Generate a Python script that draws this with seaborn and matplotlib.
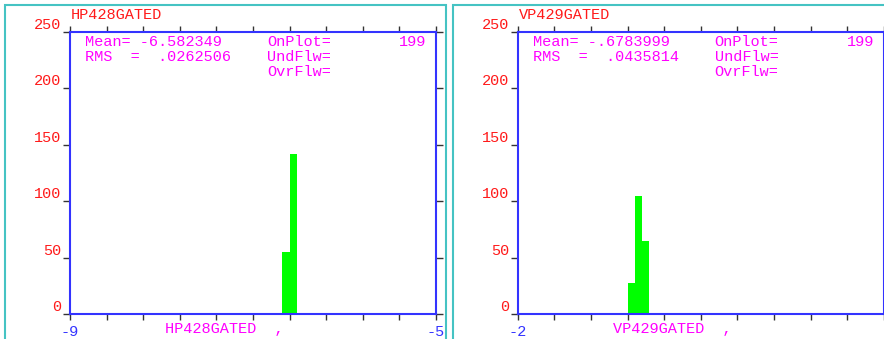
import numpy as np
import pandas as pd
import matplotlib
matplotlib.use("Agg")
import matplotlib.pyplot as plt
from matplotlib.patches import Rectangle
import seaborn as sns

# histogram contents (bin centres, counts)
hp_centres = [-6.64, -6.56]
hp_counts = [55, 142]
vp_centres = [-0.76, -0.68, -0.60]
vp_counts = [28, 105, 65]

hp_name = "HP428GATED"
vp_name = "VP429GATED"
hp_stats = ["Mean= -6.582349", "RMS  =  .0262506"]
vp_stats = ["Mean= -.6783999", "RMS  =  .0435814"]
on_plot = ["199", "199"]
y_ticks = [0, 50, 100, 150, 200, 250]
# end labels on the x axis (the right panel's upper one is off the picture)
hp_xlabels = ["-9", "-5"]
vp_xlabels = ["-2", ""]

RED = "#ff1a1a"
BLUE = "#3333ff"
MAG = "#ff00ff"
GREEN = "#00ff00"
CYAN = "#45c3c3"
TICK = "#333333"

sns.set_style("white")
plt.rcParams["font.family"] = ["Liberation Mono", "DejaVu Sans Mono"]
FS = 11

W, H = 884, 339
fig = plt.figure(figsize=(W / 100, H / 100), dpi=100)

# cyan frames around each panel
fig.patches.append(Rectangle((5 / W, -0.1), 441 / W, 1.1 - 5 / H, transform=fig.transFigure,
                             fill=False, edgecolor=CYAN, lw=1.5))
fig.patches.append(Rectangle((453 / W, -0.1), 0.6, 1.1 - 5 / H, transform=fig.transFigure,
                             fill=False, edgecolor=CYAN, lw=1.5))


def panel(left_px, centres, counts, lo, hi, name, stats, onplot, end_labels):
    ax = fig.add_axes([left_px / W, 24.7 / H, 366 / W, 282.5 / H])
    df = pd.DataFrame({"x": centres, "n": counts})
    edges = list(np.linspace(lo, hi, 51))
    sns.histplot(data=df, x="x", weights="n", bins=edges, ax=ax, color=GREEN,
                 alpha=1, linewidth=0)
    ax.set_xlim(lo, hi)
    ax.set_ylim(0, 250)
    ax.set_xlabel("")
    ax.set_ylabel("")
    for s in ax.spines.values():
        s.set_color(BLUE)
        s.set_linewidth(1.5)
        s.set_visible(True)

    xt = np.linspace(lo, hi, 11)
    ax.set_xticks(xt)
    labs = [""] * 11
    labs[0] = end_labels[0]
    labs[-1] = end_labels[1]
    ax.set_xticklabels(labs, color=BLUE, fontsize=FS)
    ax.tick_params(axis="x", which="major", direction="out", length=4.5, width=1,
                   color=TICK, top=True, bottom=True, pad=3)
    ax.set_yticks(y_ticks)
    ax.set_yticklabels([str(v) for v in y_ticks], color=RED, fontsize=FS)
    ax.tick_params(axis="y", which="major", direction="out", length=5, width=1,
                   color=TICK, left=True, right=True, pad=1)
    for t in ax.get_yticklabels():
        t.set_va("bottom")

    # stats box
    ax.text(0.041, 0.965, stats[0], transform=ax.transAxes, color=MAG, fontsize=FS, va="center")
    ax.text(0.041, 0.911, stats[1], transform=ax.transAxes, color=MAG, fontsize=FS, va="center")
    ax.text(0.538, 0.965, "OnPlot=", transform=ax.transAxes, color=MAG, fontsize=FS, va="center")
    ax.text(0.538, 0.911, "UndFlw=", transform=ax.transAxes, color=MAG, fontsize=FS, va="center")
    ax.text(0.538, 0.858, "OvrFlw=", transform=ax.transAxes, color=MAG, fontsize=FS, va="center")
    ax.text(0.973, 0.965, onplot, transform=ax.transAxes, color=MAG, fontsize=FS,
            va="center", ha="right")

    # title and axis name
    fig.text((left_px + 1) / W, 1 - 15 / H, name, color=RED, fontsize=FS, va="center")
    fig.text((left_px + 95) / W, 10 / H, name + "  ,", color=MAG, fontsize=FS, va="center")
    return ax


panel(70, hp_centres, hp_counts, -9, -5, hp_name, hp_stats, on_plot[0], hp_xlabels)
panel(517.7, vp_centres, vp_counts, -2, 2, vp_name, vp_stats, on_plot[1], vp_xlabels)

fig.savefig("out.png", dpi=100, facecolor="white")
